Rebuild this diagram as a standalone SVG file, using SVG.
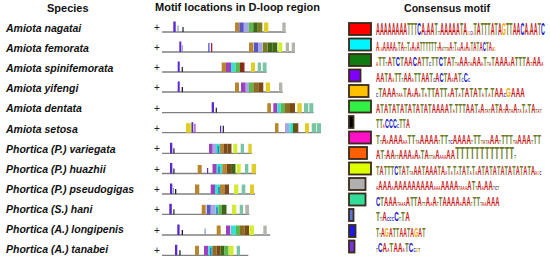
<svg xmlns="http://www.w3.org/2000/svg" width="550" height="260" viewBox="0 0 550 260">
<style>
text{font-family:"Liberation Sans",Arial,sans-serif}
.hd{font-size:11px;font-weight:bold;fill:#111}
.sp{font-size:10.5px;font-weight:bold;font-style:italic;fill:#111}
.pl{font-size:10px;fill:#222}
.ln{stroke:#808080;stroke-width:1.3;fill:none}
.vio{fill:#5a28d0}.gb{fill:#8a94c8}.blk{fill:#1e1e2a}.brn{fill:#b8862e}.obr{fill:#8e6a22}
.slb{fill:#5a55c0}.lav{fill:#a6a8e6}.grn{fill:#5cb848}.dgr{fill:#3f6614}.olv{fill:#7a7a22}
.yel{fill:#e2cc26}.gry{fill:#b4b4ac}.mag{fill:#a040c0}.cya{fill:#3ae0d0}.dbr{fill:#7a4a18}
.rbr{fill:#8a2a18}.ygr{fill:#d2ec30}.tea{fill:#78c4a4}.bl2{fill:#3848c8}.red{fill:#b0203a}
.lb{stroke:#3a2a1a;stroke-width:1.8}
.lg{font-size:16px;font-weight:bold;font-kerning:none;letter-spacing:0.3px}
.m{font-size:12px}.s{font-size:6px}.L{font-size:16px}
.a{fill:#c81414}.c{fill:#1414c8}.g{fill:#f0a800}.t{fill:#6a7a26}
</style>

<g id="headers">
<text class="hd" x="47" y="12">Species</text>
<text class="hd" x="155" y="11">Motif locations in D-loop region</text>
<text class="hd" x="404" y="11.5" style="font-size:10.6px">Consensus motif</text>
</g>

<g id="row-amiota-nagatai">
<text class="sp" x="6" y="32">Amiota nagatai</text>
<text class="pl" x="154" y="31">+</text>
<line class="ln" x1="162" y1="32" x2="286" y2="32"/>
<rect class="vio" x="173.3" y="21.5" width="2.4" height="10.5"/>
<rect class="gb" x="177.4" y="25.5" width="1.2" height="6.5"/>
<rect class="blk" x="182.4" y="27" width="1.2" height="5"/>
<rect class="brn" x="235" y="22.5" width="4" height="9.5"/>
<rect class="slb" x="239.3" y="22.5" width="4.5" height="9.5"/>
<rect class="lav" x="243.8" y="22.5" width="5" height="9.5"/>
<rect class="grn" x="248.8" y="22.5" width="4.5" height="9.5"/>
<rect class="dgr" x="253.3" y="22.5" width="4.4" height="9.5"/>
<rect class="olv" x="257.7" y="22.5" width="4.6" height="9.5"/>
<rect class="yel" x="264" y="22.5" width="4.3" height="9.5"/>
<rect class="gry" x="282.3" y="22.5" width="3.4" height="9.5"/>
</g>

<g id="row-amiota-femorata">
<text class="sp" x="6" y="52.1">Amiota femorata</text>
<text class="pl" x="154" y="51">+</text>
<line class="ln" x1="162" y1="52" x2="295" y2="52"/>
<rect class="vio" x="179.3" y="41.5" width="2" height="10.5"/>
<rect class="gb" x="181.8" y="45" width="1" height="7"/>
<rect class="bl2" x="208.3" y="43" width="1.2" height="9"/>
<rect class="red" x="211" y="43" width="1.3" height="9"/>
<rect class="brn" x="249" y="42.5" width="4.3" height="9.5"/>
<rect class="slb" x="253.8" y="42.5" width="4.2" height="9.5"/>
<rect class="lav" x="258" y="42.5" width="4.3" height="9.5"/>
<rect class="olv" x="262.7" y="42.5" width="4.6" height="9.5"/>
<rect class="dgr" x="267.5" y="42.5" width="4.8" height="9.5"/>
<rect class="dgr" x="272.3" y="42.5" width="5" height="9.5"/>
<rect class="ygr" x="278.3" y="42.5" width="4" height="9.5"/>
<rect class="gry" x="285.7" y="42.5" width="3.3" height="9.5"/>
<rect class="gry" x="291.7" y="42.5" width="3.3" height="9.5"/>
</g>

<g id="row-amiota-spinifemorata">
<text class="sp" x="6" y="72.2">Amiota spinifemorata</text>
<text class="pl" x="154" y="71">+</text>
<line class="ln" x1="162" y1="72" x2="266.7" y2="72"/>
<rect class="vio" x="177.7" y="61.5" width="2" height="10.5"/>
<rect class="blk" x="181.7" y="67" width="1.2" height="5"/>
<rect class="brn" x="221.7" y="62.5" width="4.3" height="9.5"/>
<rect class="mag" x="226" y="62.5" width="5" height="9.5"/>
<rect class="cya" x="231" y="62.5" width="4.7" height="9.5"/>
<rect class="grn" x="235.7" y="62.5" width="4.3" height="9.5"/>
<rect class="rbr" x="240" y="62.5" width="4.5" height="9.5"/>
<rect class="yel" x="251" y="62.5" width="4" height="9.5"/>
<rect class="tea" x="257.7" y="62.5" width="3.3" height="9.5"/>
<rect class="tea" x="262.7" y="62.5" width="3.8" height="9.5"/>
</g>

<g id="row-amiota-yifengi">
<text class="sp" x="6" y="92.3">Amiota yifengi</text>
<text class="pl" x="154" y="91">+</text>
<line class="ln" x1="162" y1="92" x2="282.7" y2="92"/>
<rect class="vio" x="177.7" y="81.5" width="2" height="10.5"/>
<rect class="blk" x="181.7" y="87" width="1.3" height="5"/>
<rect class="brn" x="235" y="82.5" width="4" height="9.5"/>
<rect class="mag" x="241" y="82.5" width="4.7" height="9.5"/>
<rect class="lav" x="245.7" y="82.5" width="3.3" height="9.5"/>
<rect class="grn" x="249" y="82.5" width="4.3" height="9.5"/>
<rect class="obr" x="253.3" y="82.5" width="5" height="9.5"/>
<rect class="dbr" x="258.3" y="82.5" width="5" height="9.5"/>
<rect class="yel" x="265.7" y="82.5" width="4.3" height="9.5"/>
<rect class="gry" x="279" y="82.5" width="3.3" height="9.5"/>
</g>

<g id="row-amiota-dentata">
<text class="sp" x="6" y="112.4">Amiota dentata</text>
<text class="pl" x="154" y="111.7">+</text>
<line class="ln" x1="162" y1="112.7" x2="313.5" y2="112.7"/>
<rect class="vio" x="211.7" y="102.2" width="2.3" height="10.5"/>
<rect class="blk" x="215.7" y="107.7" width="1.2" height="5"/>
<rect class="brn" x="267.3" y="103.2" width="3.7" height="9.5"/>
<rect class="mag" x="273.3" y="103.2" width="4" height="9.5"/>
<rect class="cya" x="277.3" y="103.2" width="3.4" height="9.5"/>
<rect class="grn" x="280.7" y="103.2" width="4.3" height="9.5"/>
<rect class="obr" x="285" y="103.2" width="5" height="9.5"/>
<rect class="dbr" x="290" y="103.2" width="5" height="9.5"/>
<rect class="yel" x="297.3" y="103.2" width="4.4" height="9.5"/>
<rect class="tea" x="304" y="103.2" width="4.3" height="9.5"/>
<rect class="tea" x="309.3" y="103.2" width="4" height="9.5"/>
</g>

<g id="row-amiota-setosa">
<text class="sp" x="6" y="132.5">Amiota setosa</text>
<text class="pl" x="154" y="131.7">+</text>
<line class="ln" x1="162" y1="132.7" x2="321" y2="132.7"/>
<rect class="yel" x="186" y="123.2" width="4" height="9.5"/>
<rect class="ygr" x="190" y="123.2" width="1.5" height="9.5"/>
<rect class="vio" x="191.5" y="122.2" width="1.8" height="10.5"/>
<rect class="mag" x="194.3" y="123.7" width="1.2" height="9"/>
<rect class="vio" x="220" y="125.7" width="1.2" height="7"/>
<rect class="blk" x="222.7" y="125.7" width="1.2" height="7"/>
<rect class="brn" x="275" y="123.2" width="3.5" height="9.5"/>
<rect class="lav" x="285" y="123.2" width="4.3" height="9.5"/>
<rect class="cya" x="289.3" y="123.2" width="3.4" height="9.5"/>
<rect class="dgr" x="292.7" y="123.2" width="2.3" height="9.5"/>
<rect class="dbr" x="295" y="123.2" width="3.3" height="9.5"/>
<rect class="yel" x="305" y="123.2" width="4" height="9.5"/>
<rect class="tea" x="311.7" y="123.2" width="4.3" height="9.5"/>
<rect class="tea" x="316.7" y="123.2" width="4.3" height="9.5"/>
</g>

<g id="row-phortica-variegata">
<text class="sp" x="6" y="152.6">Phortica (P.) variegata</text>
<text class="pl" x="154" y="152.3">+</text>
<line class="ln" x1="162" y1="153.3" x2="251.7" y2="153.3"/>
<rect class="vio" x="170" y="142.8" width="2.3" height="10.5"/>
<rect class="blk" x="173.3" y="148.3" width="1.2" height="5"/>
<rect class="mag" x="209" y="143.8" width="3.7" height="9.5"/>
<rect class="lav" x="212.7" y="143.8" width="3.3" height="9.5"/>
<rect class="cya" x="216" y="143.8" width="4" height="9.5"/>
<rect class="bl2" x="217.7" y="146" width="1" height="7.3"/>
<rect class="brn" x="220" y="143.8" width="3.5" height="9.5"/>
<rect class="dbr" x="223.5" y="143.8" width="4" height="9.5"/>
<rect class="dbr" x="227.5" y="143.8" width="4" height="9.5"/>
<rect class="ygr" x="233.3" y="143.8" width="4" height="9.5"/>
<rect class="tea" x="240.7" y="143.8" width="3.3" height="9.5"/>
<rect class="yel" x="248.3" y="143.8" width="3.4" height="9.5"/>
</g>

<g id="row-phortica-huazhii">
<text class="sp" x="6" y="172.7">Phortica (P.) huazhii</text>
<text class="pl" x="154" y="172.5">+</text>
<line class="ln" x1="162" y1="173.5" x2="256" y2="173.5"/>
<rect class="vio" x="170" y="163" width="2.3" height="10.5"/>
<rect class="blk" x="173.3" y="168.5" width="1.2" height="5"/>
<rect class="brn" x="197.7" y="165" width="4" height="8.5"/>
<rect class="vio" x="207" y="168" width="1.2" height="5.5"/>
<rect class="mag" x="212.5" y="164" width="4.2" height="9.5"/>
<rect class="cya" x="216.7" y="164" width="5.6" height="9.5"/>
<rect class="bl2" x="218.5" y="166.5" width="1" height="7"/>
<rect class="brn" x="222.3" y="164" width="4.4" height="9.5"/>
<rect class="dbr" x="226.7" y="164" width="4.4" height="9.5"/>
<rect class="dgr" x="231.1" y="164" width="4.4" height="9.5"/>
<rect class="ygr" x="236.7" y="164" width="4" height="9.5"/>
<rect class="tea" x="245" y="164" width="3.3" height="9.5"/>
<rect class="yel" x="251.7" y="164" width="4.3" height="9.5"/>
</g>

<g id="row-phortica-pseudogigas">
<text class="sp" x="6" y="192.8">Phortica (P.) pseudogigas</text>
<text class="pl" x="154" y="193">+</text>
<line class="ln" x1="162" y1="194" x2="255" y2="194"/>
<rect class="vio" x="170" y="183.5" width="2.3" height="10.5"/>
<rect class="gb" x="173" y="188" width="1" height="6"/>
<rect class="blk" x="175" y="189" width="1.3" height="5"/>
<rect class="brn" x="195" y="184.5" width="4.3" height="9.5"/>
<rect class="mag" x="210.7" y="184.5" width="4.3" height="9.5"/>
<rect class="cya" x="215" y="184.5" width="5" height="9.5"/>
<rect class="bl2" x="218.5" y="187" width="1" height="7"/>
<rect class="brn" x="220" y="184.5" width="4.5" height="9.5"/>
<rect class="dbr" x="224.5" y="184.5" width="4.5" height="9.5"/>
<rect class="ygr" x="234" y="184.5" width="4.3" height="9.5"/>
<rect class="tea" x="241.7" y="184.5" width="3.6" height="9.5"/>
<rect class="yel" x="250" y="184.5" width="4" height="9.5"/>
</g>

<g id="row-phortica-hani">
<text class="sp" x="6" y="212.9">Phortica (S.) hani</text>
<text class="pl" x="154" y="213.3">+</text>
<line class="ln" x1="162" y1="214.3" x2="249.3" y2="214.3"/>
<rect class="vio" x="169.3" y="203.8" width="2.5" height="10.5"/>
<rect class="blk" x="173.3" y="209.3" width="1.2" height="5"/>
<rect class="brn" x="201.7" y="204.8" width="4" height="9.5"/>
<rect class="slb" x="206.7" y="204.8" width="4" height="9.5"/>
<rect class="lav" x="211" y="204.8" width="4.5" height="9.5"/>
<rect class="cya" x="215.5" y="204.8" width="3" height="9.5"/>
<rect class="bl2" x="216.5" y="207.3" width="1" height="7"/>
<rect class="grn" x="218.5" y="204.8" width="3.2" height="9.5"/>
<rect class="dgr" x="221.7" y="204.8" width="4.8" height="9.5"/>
<rect class="ygr" x="232" y="204.8" width="4.3" height="9.5"/>
<rect class="tea" x="239.7" y="204.8" width="3.3" height="9.5"/>
<rect class="gry" x="245.3" y="204.8" width="3.7" height="9.5"/>
</g>

<g id="row-phortica-longipenis">
<text class="sp" x="6" y="233">Phortica (A.) longipenis</text>
<text class="pl" x="154" y="234">+</text>
<line class="ln" x1="162" y1="235" x2="270" y2="235"/>
<rect class="vio" x="177.3" y="224.5" width="2.3" height="10.5"/>
<rect class="blk" x="181.7" y="230" width="1.3" height="5"/>
<rect class="gb" x="204.5" y="228.5" width="1.2" height="6.5"/>
<rect class="brn" x="216.7" y="225.5" width="4" height="9.5"/>
<rect class="mag" x="226" y="225.5" width="4.3" height="9.5"/>
<rect class="cya" x="231" y="225.5" width="5" height="9.5"/>
<rect class="grn" x="236" y="225.5" width="4" height="9.5"/>
<rect class="obr" x="240" y="225.5" width="4.5" height="9.5"/>
<rect class="dbr" x="244.5" y="225.5" width="4.5" height="9.5"/>
<rect class="ygr" x="249.3" y="225.5" width="4.7" height="9.5"/>
<rect class="gry" x="263.3" y="225.5" width="3.4" height="9.5"/>
</g>

<g id="row-phortica-tanabei">
<text class="sp" x="6" y="253.1">Phortica (A.) tanabei</text>
<text class="pl" x="154" y="254.3">+</text>
<line class="ln" x1="162" y1="255.3" x2="248.3" y2="255.3"/>
<rect class="vio" x="175" y="244.8" width="2.3" height="10.5"/>
<rect class="blk" x="179.3" y="250.3" width="1.3" height="5"/>
<rect class="brn" x="195" y="245.8" width="4" height="9.5"/>
<rect class="mag" x="204" y="245.8" width="4.3" height="9.5"/>
<rect class="cya" x="208.3" y="245.8" width="4" height="9.5"/>
<rect class="bl2" x="210.3" y="247.8" width="1" height="7.5"/>
<rect class="obr" x="212.3" y="245.8" width="4.2" height="9.5"/>
<rect class="dbr" x="216.5" y="245.8" width="4" height="9.5"/>
<rect class="dgr" x="220.5" y="245.8" width="4" height="9.5"/>
<rect class="grn" x="224.5" y="245.8" width="4" height="9.5"/>
<rect class="ygr" x="229" y="245.8" width="4.5" height="9.5"/>
<rect class="tea" x="236.7" y="245.8" width="3.3" height="9.5"/>
</g>

<g id="motif-1">
<rect class="lb" x="349" y="23" width="22" height="12" fill="#ff0000"/>
<text class="lg" transform="translate(376,35) scale(0.33,1)"><tspan class="a">AAAAAAAA</tspan><tspan class="t">TTT</tspan><tspan class="c">C</tspan><tspan class="a">A</tspan><tspan class="c s">C</tspan><tspan class="a">AA</tspan><tspan class="t">T</tspan><tspan class="t s">TT</tspan><tspan class="a">AAAAA</tspan><tspan class="t">T</tspan><tspan class="a">A</tspan><tspan class="g s">GG</tspan><tspan class="c s">C</tspan><tspan class="a s">A</tspan><tspan class="t">T</tspan><tspan class="a">A</tspan><tspan class="t">TTT</tspan><tspan class="a">A</tspan><tspan class="t">T</tspan><tspan class="a">A</tspan><tspan class="g">G</tspan><tspan class="t">TT</tspan><tspan class="a">AA</tspan><tspan class="c">C</tspan><tspan class="a">A</tspan><tspan class="a s">A</tspan><tspan class="a">AA</tspan><tspan class="t">T</tspan><tspan class="c">C</tspan></text>
</g>

<g id="motif-2">
<rect class="lb" x="349" y="38.5" width="22" height="12" fill="#00f5ff" stroke="#6a6a6a"/>
<text class="lg m" transform="translate(376,50.5) scale(0.37,1)"><tspan class="a">A</tspan><tspan class="g s">G</tspan><tspan class="a s">A</tspan><tspan class="a">AAAA</tspan><tspan class="a s">A</tspan><tspan class="t">T</tspan><tspan class="a">A</tspan><tspan class="t s">TT</tspan><tspan class="t">T</tspan><tspan class="a s">A</tspan><tspan class="a">A</tspan><tspan class="a s">A</tspan><tspan class="a">A</tspan><tspan class="t">TTTTTT</tspan><tspan class="t s">T</tspan><tspan class="a">A</tspan><tspan class="a s">A</tspan><tspan class="t s">TTT</tspan><tspan class="a s">A</tspan><tspan class="a">A</tspan><tspan class="t s">T</tspan><tspan class="t">T</tspan><tspan class="a s">AA</tspan><tspan class="a">A</tspan><tspan class="a s">A</tspan><tspan class="a">A</tspan><tspan class="a s">A</tspan><tspan class="t">T</tspan><tspan class="a">A</tspan><tspan class="t">T</tspan><tspan class="a">A</tspan><tspan class="c">C</tspan><tspan class="t">T</tspan><tspan class="a">A</tspan><tspan class="a s">A</tspan><tspan class="g s">G</tspan></text>
</g>

<g id="motif-3">
<rect class="lb" x="349" y="54" width="22" height="12" fill="#117a11"/>
<text class="lg m" transform="translate(376,66) scale(0.49,1)"><tspan class="a s">A</tspan><tspan class="t">TT</tspan><tspan class="t s">T</tspan><tspan class="a">A</tspan><tspan class="t">T</tspan><tspan class="c">C</tspan><tspan class="t">T</tspan><tspan class="a">AA</tspan><tspan class="c">C</tspan><tspan class="a">A</tspan><tspan class="t">TT</tspan><tspan class="c s">C</tspan><tspan class="t">TT</tspan><tspan class="c">C</tspan><tspan class="t">T</tspan><tspan class="a">A</tspan><tspan class="t">T</tspan><tspan class="t s">T</tspan><tspan class="a s">A</tspan><tspan class="a">AA</tspan><tspan class="t s">T</tspan><tspan class="a s">A</tspan><tspan class="a">AA</tspan><tspan class="a s">A</tspan><tspan class="t">T</tspan><tspan class="t s">T</tspan><tspan class="a s">A</tspan><tspan class="t">T</tspan><tspan class="a">AAA</tspan><tspan class="a s">A</tspan><tspan class="a">A</tspan><tspan class="t">TTT</tspan><tspan class="a">A</tspan><tspan class="t s">T</tspan><tspan class="a">AA</tspan><tspan class="a s">A</tspan></text>
</g>

<g id="motif-4">
<rect class="lb" x="349" y="69.5" width="11.5" height="12" fill="#7f00ff"/>
<text class="lg m" transform="translate(376,81.5) scale(0.47,1)"><tspan class="a">AA</tspan><tspan class="t">T</tspan><tspan class="a">A</tspan><tspan class="a s">A</tspan><tspan class="t">TT</tspan><tspan class="t s">T</tspan><tspan class="a">AA</tspan><tspan class="a s">A</tspan><tspan class="t">TT</tspan><tspan class="a">AA</tspan><tspan class="t">T</tspan><tspan class="c s">C</tspan><tspan class="a">A</tspan><tspan class="c">C</tspan><tspan class="t">T</tspan><tspan class="a">A</tspan><tspan class="a s">A</tspan><tspan class="a">A</tspan><tspan class="t">T</tspan><tspan class="c s">C</tspan><tspan class="c">C</tspan><tspan class="c s">C</tspan></text>
</g>

<g id="motif-5">
<rect class="lb" x="349" y="85" width="19.5" height="12" fill="#ffc000"/>
<text class="lg m" transform="translate(376,97) scale(0.515,1)"><tspan class="c s">C</tspan><tspan class="t">T</tspan><tspan class="a">AAA</tspan><tspan class="t s">T</tspan><tspan class="a s">AA</tspan><tspan class="t">T</tspan><tspan class="a">A</tspan><tspan class="a s">A</tspan><tspan class="a">A</tspan><tspan class="a s">A</tspan><tspan class="t">T</tspan><tspan class="a s">A</tspan><tspan class="t">TT</tspan><tspan class="a">A</tspan><tspan class="t">TT</tspan><tspan class="a s">A</tspan><tspan class="a">A</tspan><tspan class="t">T</tspan><tspan class="a s">A</tspan><tspan class="t">T</tspan><tspan class="a">A</tspan><tspan class="t">T</tspan><tspan class="a">A</tspan><tspan class="t">T</tspan><tspan class="a s">A</tspan><tspan class="t">T</tspan><tspan class="a s">A</tspan><tspan class="t">T</tspan><tspan class="a">AA</tspan><tspan class="c s">C</tspan><tspan class="g">G</tspan><tspan class="a">AAA</tspan></text>
</g>

<g id="motif-6">
<rect class="lb" x="349" y="100.5" width="22" height="12" fill="#33ee44"/>
<text class="lg m" transform="translate(376,112.5) scale(0.48,1)"><tspan class="a">A</tspan><tspan class="t">T</tspan><tspan class="a">A</tspan><tspan class="t">T</tspan><tspan class="a">A</tspan><tspan class="t">T</tspan><tspan class="a">A</tspan><tspan class="t">T</tspan><tspan class="a">A</tspan><tspan class="t">T</tspan><tspan class="a">A</tspan><tspan class="t">T</tspan><tspan class="a">A</tspan><tspan class="t">T</tspan><tspan class="a">AAAA</tspan><tspan class="t">T</tspan><tspan class="a s">A</tspan><tspan class="t">TTT</tspan><tspan class="a">AA</tspan><tspan class="t">T</tspan><tspan class="a s">A</tspan><tspan class="a">A</tspan><tspan class="t s">T</tspan><tspan class="a s">A</tspan><tspan class="t s">T</tspan><tspan class="a">A</tspan><tspan class="t">T</tspan><tspan class="a">A</tspan><tspan class="t s">T</tspan><tspan class="a">A</tspan><tspan class="t s">T</tspan><tspan class="a s">A</tspan><tspan class="a">A</tspan><tspan class="t s">T</tspan><tspan class="a s">A</tspan><tspan class="t">T</tspan><tspan class="a s">A</tspan><tspan class="t">T</tspan><tspan class="a">A</tspan><tspan class="t s">T</tspan><tspan class="a s">A</tspan><tspan class="t s">T</tspan></text>
</g>

<g id="motif-7">
<rect class="lb" x="349" y="116" width="4.5" height="12" fill="#000000" stroke="#000"/>
<text class="lg m" transform="translate(376,128) scale(0.45,1)"><tspan class="t">TT</tspan><tspan class="a s">A</tspan><tspan class="c">CCC</tspan><tspan class="c s">C</tspan><tspan class="t">TT</tspan><tspan class="a">A</tspan></text>
</g>

<g id="motif-8">
<rect class="lb" x="349" y="131.5" width="22" height="12" fill="#ff10c8" stroke="#5a1a7a"/>
<text class="lg m" transform="translate(376,143.5) scale(0.515,1)"><tspan class="t">T</tspan><tspan class="t s">T</tspan><tspan class="a">A</tspan><tspan class="a s">A</tspan><tspan class="a">AAA</tspan><tspan class="a s">AA</tspan><tspan class="t">TT</tspan><tspan class="t s">T</tspan><tspan class="a s">A</tspan><tspan class="a">AAAA</tspan><tspan class="t s">T</tspan><tspan class="t">TT</tspan><tspan class="t s">T</tspan><tspan class="c s">C</tspan><tspan class="a">AAAA</tspan><tspan class="t s">T</tspan><tspan class="t">TT</tspan><tspan class="t s">T</tspan><tspan class="a s">A</tspan><tspan class="t s">T</tspan><tspan class="a s">A</tspan><tspan class="a">AA</tspan><tspan class="t s">T</tspan><tspan class="t">TTT</tspan><tspan class="t s">T</tspan><tspan class="a s">A</tspan><tspan class="a">AAA</tspan><tspan class="t s">T</tspan><tspan class="t">TT</tspan></text>
</g>

<g id="motif-9">
<rect class="lb" x="349" y="147" width="18" height="12" fill="#ff6000" stroke="#5a3010"/>
<text class="lg m" transform="translate(376,159) scale(0.49,1)"><tspan class="a">A</tspan><tspan class="t">T</tspan><tspan class="t s">T</tspan><tspan class="a">AA</tspan><tspan class="t s">TT</tspan><tspan class="a">AAA</tspan><tspan class="a s">A</tspan><tspan class="a">A</tspan><tspan class="a s">A</tspan><tspan class="t">T</tspan><tspan class="a">A</tspan><tspan class="t s">TT</tspan><tspan class="a s">A</tspan><tspan class="a">A</tspan><tspan class="a s">AAA</tspan><tspan class="a">AA</tspan><tspan class="t L">TTTTTTTTTTTT</tspan><tspan class="t s">T</tspan></text>
</g>

<g id="motif-10">
<rect class="lb" x="349" y="162.5" width="22" height="12" fill="#ddff00"/>
<text class="lg m" transform="translate(376,174.5) scale(0.46,1)"><tspan class="t">T</tspan><tspan class="a">A</tspan><tspan class="t">TTT</tspan><tspan class="c">C</tspan><tspan class="t">T</tspan><tspan class="a">A</tspan><tspan class="t">T</tspan><tspan class="t s">T</tspan><tspan class="a s">A</tspan><tspan class="a">AA</tspan><tspan class="t">T</tspan><tspan class="a">AAA</tspan><tspan class="t">T</tspan><tspan class="a">A</tspan><tspan class="a s">A</tspan><tspan class="t">T</tspan><tspan class="a s">A</tspan><tspan class="t">T</tspan><tspan class="a s">A</tspan><tspan class="t">T</tspan><tspan class="a">A</tspan><tspan class="t">T</tspan><tspan class="a s">A</tspan><tspan class="t">T</tspan><tspan class="a s">A</tspan><tspan class="a">A</tspan><tspan class="t">T</tspan><tspan class="a">A</tspan><tspan class="t">T</tspan><tspan class="a">A</tspan><tspan class="t">T</tspan><tspan class="a">A</tspan><tspan class="t">T</tspan><tspan class="a">A</tspan><tspan class="t">T</tspan><tspan class="a">A</tspan><tspan class="t">T</tspan><tspan class="a">A</tspan><tspan class="t">T</tspan><tspan class="a">A</tspan><tspan class="a s">A</tspan><tspan class="g s">G</tspan><tspan class="c s">C</tspan></text>
</g>

<g id="motif-11">
<rect class="lb" x="349" y="178" width="16.5" height="12" fill="#b0b0b0"/>
<text class="lg m" transform="translate(376,190) scale(0.495,1)"><tspan class="a s">A</tspan><tspan class="a">AAA</tspan><tspan class="a s">A</tspan><tspan class="a">AAAAAAAAA</tspan><tspan class="a s">AAA</tspan><tspan class="a">AAAA</tspan><tspan class="t s">T</tspan><tspan class="a s">AAA</tspan><tspan class="a">A</tspan><tspan class="t">T</tspan><tspan class="t s">T</tspan><tspan class="a">A</tspan><tspan class="a s">A</tspan><tspan class="a">AA</tspan><tspan class="t s">T</tspan><tspan class="c s">C</tspan><tspan class="t s">T</tspan></text>
</g>

<g id="motif-12">
<rect class="lb" x="349" y="193.5" width="16.5" height="12" fill="#33dd99"/>
<text class="lg m" transform="translate(376,205.5) scale(0.485,1)"><tspan class="c">C</tspan><tspan class="t">T</tspan><tspan class="a">AAA</tspan><tspan class="t s">T</tspan><tspan class="a s">AAA</tspan><tspan class="a">A</tspan><tspan class="t">TT</tspan><tspan class="a">A</tspan><tspan class="t s">TT</tspan><tspan class="a">A</tspan><tspan class="a s">A</tspan><tspan class="a">A</tspan><tspan class="t s">T</tspan><tspan class="t">T</tspan><tspan class="a">AAAA</tspan><tspan class="a s">A</tspan><tspan class="a">AA</tspan><tspan class="t s">T</tspan><tspan class="t">TT</tspan><tspan class="t s">T</tspan><tspan class="a s">AA</tspan><tspan class="a">AAA</tspan></text>
</g>

<g id="motif-13">
<rect class="lb" x="349" y="209" width="4.5" height="12" fill="#5577dd" stroke="#1a2050"/>
<text class="lg m" transform="translate(376,221) scale(0.53,1)"><tspan class="t">T</tspan><tspan class="t s">T</tspan><tspan class="a">A</tspan><tspan class="c s">CCC</tspan><tspan class="c">C</tspan><tspan class="t s">T</tspan><tspan class="t">T</tspan><tspan class="a">A</tspan></text>
</g>

<g id="motif-14">
<rect class="lb" x="349" y="225" width="6.5" height="12" fill="#1a1aee" stroke="#10104a"/>
<text class="lg m" transform="translate(376,236.5) scale(0.43,1)"><tspan class="t">T</tspan><tspan class="t s">T</tspan><tspan class="a">A</tspan><tspan class="g">G</tspan><tspan class="a">A</tspan><tspan class="t">TT</tspan><tspan class="a">AA</tspan><tspan class="t">T</tspan><tspan class="a">A</tspan><tspan class="g">G</tspan><tspan class="a">A</tspan><tspan class="t">T</tspan></text>
</g>

<g id="motif-15">
<rect class="lb" x="349" y="240.5" width="5.5" height="12" fill="#7733dd" stroke="#2a1050"/>
<text class="lg m" transform="translate(376,252) scale(0.51,1)"><tspan class="t s">T</tspan><tspan class="c">C</tspan><tspan class="a">A</tspan><tspan class="a s">A</tspan><tspan class="t">T</tspan><tspan class="a">AA</tspan><tspan class="a s">A</tspan><tspan class="t">T</tspan><tspan class="c">C</tspan><tspan class="c s">C</tspan><tspan class="g s">G</tspan><tspan class="t s">T</tspan></text>
</g>
</svg>
